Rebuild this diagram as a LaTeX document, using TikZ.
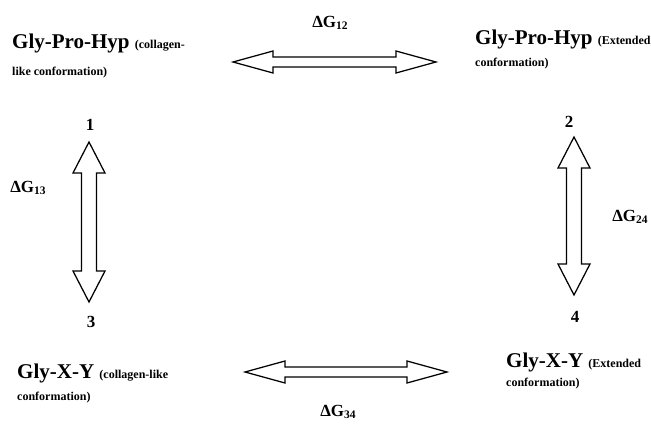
\documentclass[tikz,border=0pt]{standalone}
\usepackage{fontspec}
\setmainfont{Liberation Serif}
\newcommand\bigsz{\fontsize{21}{24}\selectfont}
\newcommand\smsz{\fontsize{12}{14}\selectfont}
\newcommand\lblsz{\fontsize{17}{20}\selectfont}
\newcommand\subsz{\fontsize{11.5}{12}\selectfont}
\newcommand\dG[1]{\lblsz ΔG\raisebox{-2pt}{\subsz #1}}
\begin{document}
\begin{tikzpicture}[x=1pt,y=-1pt,
  txt/.style={inner sep=0pt, font=\bfseries, text=black},
  outline/.style={draw=black, line width=1.25pt, fill=white, line join=miter},
  pics/fatarrow/.style n args={4}{code={%
    \draw[outline] (0,0) -- (#2,#3) -- (#2,#4) -- (#1-#2,#4) -- (#1-#2,#3)
      -- (#1,0) -- (#1-#2,-#3) -- (#1-#2,-#4) -- (#2,-#4) -- (#2,-#3) -- cycle;
  }}]
\useasboundingbox (0,0) rectangle (651,425);

% state labels
\node[txt, anchor=base west] (s1) at (12,49) {\bigsz Gly-Pro-Hyp \smsz(collagen-};
\node[txt, anchor=base west] (s1b) at (12,76) {\smsz like conformation)};
\node[txt, anchor=base west] (s2) at (475,45) {\bigsz Gly-Pro-Hyp \smsz(Extended};
\node[txt, anchor=base west] (s2b) at (475,67) {\smsz conformation)};
\node[txt, anchor=base west] (s3) at (17,378) {\bigsz Gly-X-Y \smsz(collagen-like};
\node[txt, anchor=base west] (s3b) at (17,400) {\smsz conformation)};
\node[txt, anchor=base west] (s4) at (506,367) {\bigsz Gly-X-Y \smsz(Extended};
\node[txt, anchor=base west] (s4b) at (506,386) {\smsz conformation)};

% state numbers
\node[txt] (n1) at (90,125) {\lblsz 1};
\node[txt] (n2) at (569,122) {\lblsz 2};
\node[txt] (n3) at (91,322) {\lblsz 3};
\node[txt] (n4) at (575,317) {\lblsz 4};

% equilibrium arrows
\pic (a12) at (233,62) {fatarrow={203}{40}{11}{5}};
\pic (a34) at (245,372) {fatarrow={202}{40}{11}{5}};
\pic[rotate=-90] (a13) at (89,142) {fatarrow={160}{31}{16}{7.5}};
\pic[rotate=-90] (a24) at (574,137) {fatarrow={158}{31}{16}{7.5}};

% free-energy labels
\node[txt] (g12) at (330,23) {\dG{12}};
\node[txt] (g13) at (28,188) {\dG{13}};
\node[txt] (g24) at (630,217) {\dG{24}};
\node[txt] (g34) at (338,412) {\dG{34}};
\end{tikzpicture}
\end{document}
